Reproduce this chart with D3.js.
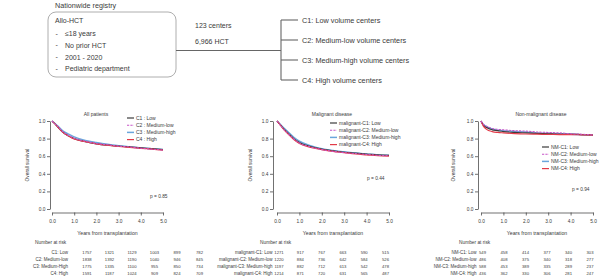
<!DOCTYPE html>
<html lang="en">
<head>
<meta charset="UTF-8">
<title>Survival by center volume</title>
<style>
  body { margin: 0; background: #fff; }
  text { font-family: "Liberation Sans", Arial, sans-serif; fill: #3a3a3a; }
</style>
</head>
<body>
<div id="wrapper"></div>
<script src="https://d3js.org/d3.v7.min.js"></script>
<script>
// ---- data ----
const years = [0, 0.1, 0.25, 0.5, 0.75, 1, 1.5, 2, 2.5, 3, 3.5, 4, 4.5, 5];
const xTicks = [0, 1, 2, 3, 4, 5];
const yTicks = [0, 0.2, 0.4, 0.6, 0.8, 1.0];

// all patients
const allC1 = [1.0, 0.975, 0.935, 0.87, 0.83, 0.80, 0.765, 0.74, 0.725, 0.715, 0.705, 0.695, 0.685, 0.675];
const allC2 = [1.0, 0.975, 0.94, 0.875, 0.835, 0.805, 0.77, 0.745, 0.73, 0.715, 0.705, 0.69, 0.68, 0.67];
const allC3 = [1.0, 0.98, 0.945, 0.885, 0.85, 0.82, 0.78, 0.755, 0.735, 0.72, 0.705, 0.695, 0.685, 0.675];
const allC4 = [1.0, 0.975, 0.935, 0.87, 0.83, 0.795, 0.765, 0.74, 0.725, 0.71, 0.70, 0.69, 0.68, 0.67];
// malignant disease
const malC1 = [1.0, 0.97, 0.925, 0.86, 0.80, 0.755, 0.71, 0.68, 0.66, 0.645, 0.635, 0.625, 0.615, 0.61];
const malC2 = [1.0, 0.97, 0.92, 0.855, 0.795, 0.75, 0.705, 0.675, 0.655, 0.64, 0.63, 0.62, 0.61, 0.605];
const malC3 = [1.0, 0.975, 0.935, 0.875, 0.815, 0.77, 0.72, 0.685, 0.665, 0.65, 0.635, 0.625, 0.615, 0.61];
const malC4 = [1.0, 0.97, 0.92, 0.85, 0.79, 0.745, 0.70, 0.675, 0.655, 0.64, 0.625, 0.615, 0.605, 0.60];
// non-malignant disease
const nmC1 = [1.0, 0.955, 0.925, 0.90, 0.89, 0.88, 0.87, 0.865, 0.86, 0.855, 0.85, 0.85, 0.845, 0.84];
const nmC2 = [1.0, 0.965, 0.94, 0.915, 0.905, 0.90, 0.89, 0.885, 0.875, 0.87, 0.865, 0.855, 0.85, 0.84];
const nmC3 = [1.0, 0.96, 0.935, 0.91, 0.895, 0.89, 0.88, 0.875, 0.865, 0.86, 0.855, 0.85, 0.845, 0.84];
const nmC4 = [1.0, 0.945, 0.905, 0.88, 0.87, 0.865, 0.857, 0.852, 0.85, 0.848, 0.846, 0.845, 0.843, 0.84];

// number at risk at 0..5 years
const riskAll = [[1757, 1321, 1129, 1003, 899, 782], [1838, 1392, 1190, 1040, 946, 845],
                 [1775, 1335, 1100, 955, 850, 734], [1591, 1187, 1024, 909, 824, 709]];
const riskMal = [[1271, 917, 767, 663, 590, 515], [1220, 884, 736, 642, 584, 526],
                 [1197, 882, 712, 613, 542, 478], [1214, 871, 720, 631, 565, 487]];
const riskNm = [[549, 458, 414, 377, 340, 303], [486, 408, 375, 340, 318, 277],
                [588, 453, 389, 335, 289, 237], [436, 362, 330, 306, 281, 247]];

const legendAll = ["C1 : Low", "C2 : Medium-low", "C3 : Medium-high", "C4 : High"];
const legendMal = ["malignant-C1: Low", "malignant-C2: Medium-low", "malignant-C3: Medium-high", "malignant-C4: High"];
const legendNm = ["NM-C1: Low", "NM-C2: Medium-low", "NM-C3: Medium-high", "NM-C4: High"];
const riskLabelsAll = ["C1: Low", "C2: Medium-low", "C3: Medium-High", "C4: High"];

const criteria = ["\u226418 years", "No prior HCT", "2001 - 2020", "Pediatric department"];
const groups = ["C1: Low volume centers", "C2: Medium-low volume centers",
                "C3: Medium-high volume centers", "C4: High volume centers"];

// ---- styling ----
const colors = ["#3b3b3b", "#c855c8", "#6aa6dc", "#e23a48"];
const dashes = [null, "2.2,1.2", null, null];
const widths = [1.2, 1.1, 1.5, 1.2];
const drawOrder = [2, 0, 3, 1];

const W = 602, H = 277;
const svg = d3.select('#wrapper').append('svg')
    .attr('width', W).attr('height', H);
svg.append('rect').attr('width', W).attr('height', H).attr('fill', '#fff');

// ---- flow chart on top ----
const topFill = '#4a4a4a';
svg.append('text').attr('x', 55).attr('y', 7.5).attr('font-size', 7.2).attr('fill', topFill).text('Nationwide registry');
svg.append('rect').attr('x', 48).attr('y', 12).attr('width', 128).attr('height', 65)
    .attr('rx', 8).attr('fill', 'none').attr('stroke', '#999').attr('stroke-width', 0.8);
svg.append('text').attr('x', 55).attr('y', 22.5).attr('font-size', 7).attr('fill', topFill).text('Allo-HCT');
criteria.forEach((c, i) => {
    const y = 36 + i * 11.8;
    svg.append('text').attr('x', 55.5).attr('y', y - 0.5).attr('font-size', 7).attr('fill', topFill).text('-');
    svg.append('text').attr('x', 65).attr('y', y).attr('font-size', 7).attr('fill', topFill).text(c);
});
svg.append('text').attr('x', 195).attr('y', 27.5).attr('font-size', 7).attr('fill', topFill).text('123 centers');
svg.append('text').attr('x', 195).attr('y', 44).attr('font-size', 7).attr('fill', topFill).text('6,966 HCT');

const flow = svg.append('g').attr('stroke', '#666').attr('stroke-width', 1.1).attr('fill', 'none');
flow.append('line').attr('x1', 176).attr('x2', 281).attr('y1', 50.5).attr('y2', 50.5);
const branchY = d3.scalePoint().domain(groups).range([20, 80]);
flow.append('line').attr('x1', 281).attr('x2', 281).attr('y1', 20).attr('y2', 80);
groups.forEach(g => {
    flow.append('line').attr('x1', 281).attr('x2', 298).attr('y1', branchY(g)).attr('y2', branchY(g));
    svg.append('text').attr('x', 302).attr('y', branchY(g) + 2.5).attr('font-size', 7.3)
        .attr('fill', topFill).text(g);
});

// ---- survival panels ----
const panels = [
    { title: 'All patients', series: [allC1, allC2, allC3, allC4], legend: legendAll,
      risk: riskAll, riskLabels: riskLabelsAll, p: 'p = 0.85',
      x0: 52, x1: 163, axisX: 50, titleX: 96, legX: 127, legY: 118, pX: 150, pY: 198,
      ylabX: 29, narX: 35, rowLabelX: 68, colX0: 87, colStep: 22.5 },
    { title: 'Malignant disease', series: [malC1, malC2, malC3, malC4], legend: legendMal,
      risk: riskMal, riskLabels: legendMal, p: 'p = 0.44',
      x0: 277, x1: 389, axisX: 273, titleX: 332, legX: 330, legY: 123, pX: 367, pY: 180,
      ylabX: 252, narX: 260, rowLabelX: 272.5, colX0: 279, colStep: 21.3 },
    { title: 'Non-malignant disease', series: [nmC1, nmC2, nmC3, nmC4], legend: legendNm,
      risk: riskNm, riskLabels: legendNm, p: 'p = 0.94',
      x0: 481, x1: 593, axisX: 478, titleX: 541, legX: 542, legY: 147, pX: 572, pY: 191,
      ylabX: 455, narX: 459, rowLabelX: 476.5, colX0: 482.5, colStep: 21.5 }
];

const yScale = d3.scaleLinear().domain([0, 1]).range([209, 121]);

panels.forEach(pn => {
    const g = svg.append('g');
    const x = d3.scaleLinear().domain([0, 5]).range([pn.x0, pn.x1]);

    // axes
    const yAxis = g.append('g').attr('transform', `translate(${pn.axisX},0)`)
        .call(d3.axisLeft(yScale).tickValues(yTicks).tickFormat(d3.format('.1f'))
            .tickSize(3).tickSizeOuter(0).tickPadding(1.5));
    const xAxis = g.append('g').attr('transform', 'translate(0,212.5)')
        .call(d3.axisBottom(x).tickValues(xTicks).tickSize(3).tickSizeOuter(0).tickPadding(4));
    [yAxis, xAxis].forEach(a => {
        a.selectAll('path, line').attr('stroke', '#333').attr('stroke-width', 0.7);
        a.selectAll('text').attr('font-size', 4.8).attr('fill', '#3a3a3a')
            .attr('font-family', '"Liberation Sans", Arial, sans-serif');
    });

    g.append('text').attr('x', pn.ylabX).attr('y', 165).attr('font-size', 4.8)
        .attr('text-anchor', 'middle')
        .attr('transform', `rotate(-90,${pn.ylabX},165)`).text('Overall survival');
    g.append('text').attr('x', (pn.x0 + pn.x1) / 2).attr('y', 235).attr('font-size', 5.2)
        .attr('text-anchor', 'middle').text('Years from transplantation');
    g.append('text').attr('x', pn.titleX).attr('y', 115.5).attr('font-size', 5)
        .attr('text-anchor', 'middle').text(pn.title);
    g.append('text').attr('x', pn.pX).attr('y', pn.pY).attr('font-size', 4.8).text(pn.p);

    // curves
    const line = d3.line().x((d, i) => x(years[i])).y(d => yScale(d)).curve(d3.curveMonotoneX);
    drawOrder.forEach(k => {
        g.append('path').datum(pn.series[k]).attr('d', line)
            .attr('fill', 'none').attr('stroke', colors[k]).attr('stroke-width', widths[k])
            .attr('stroke-dasharray', dashes[k]);
    });

    // legend
    pn.legend.forEach((lab, k) => {
        const ly = pn.legY + k * 7.2;
        g.append('line').attr('x1', pn.legX).attr('x2', pn.legX + 7).attr('y1', ly).attr('y2', ly)
            .attr('stroke', colors[k]).attr('stroke-width', widths[k]).attr('stroke-dasharray', dashes[k]);
        g.append('text').attr('x', pn.legX + 9).attr('y', ly + 1.7).attr('font-size', 5).text(lab);
    });

    // number at risk table
    g.append('text').attr('x', pn.narX).attr('y', 243.5).attr('font-size', 4.8).text('Number at risk');
    pn.risk.forEach((row, r) => {
        const ry = 253.5 + r * 7.2;
        g.append('text').attr('x', pn.rowLabelX).attr('y', ry).attr('font-size', 4.5)
            .attr('text-anchor', 'end').text(pn.riskLabels[r]);
        row.forEach((v, c) => {
            g.append('text').attr('x', pn.colX0 + c * pn.colStep).attr('y', ry).attr('font-size', 4.2)
                .attr('text-anchor', 'middle').text(v);
        });
    });
});
</script>
</body>
</html>
